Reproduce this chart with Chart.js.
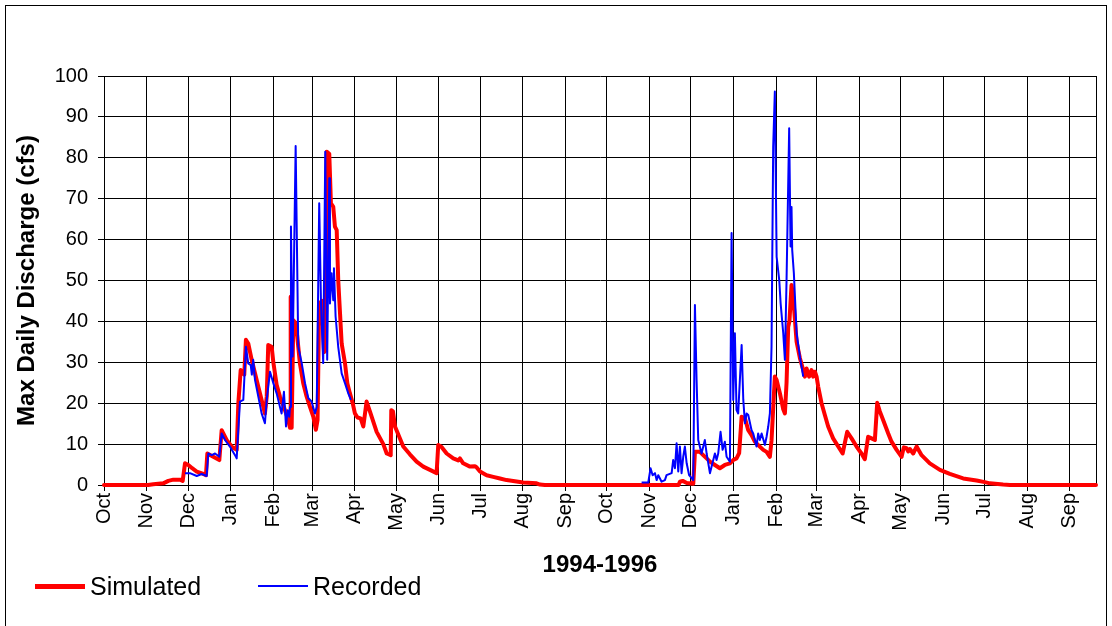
<!DOCTYPE html>
<html>
<head>
<meta charset="utf-8">
<script src="https://cdn.jsdelivr.net/npm/chart.js@4.4.1/dist/chart.umd.min.js"></script>
<style>
  html, body { margin: 0; padding: 0; background: #fff; overflow: hidden; }
  #wrap { position: relative; width: 1112px; height: 626px; }
  #wrap canvas { position: absolute; left: 0; top: 0; }
  #frame { position: absolute; left: 5px; top: 5px; width: 1102px; height: 660px;
           border: 1px solid #000; box-sizing: border-box; pointer-events: none; }
  .key { position: absolute; font-family: "Liberation Sans", Arial, sans-serif;
         font-size: 25px; line-height: 30px; color: #000; white-space: nowrap; }
  .swatch { position: absolute; }
</style>
</head>
<body>
<div id="wrap">
  <canvas id="chart" width="1112" height="626"></canvas>
  <div id="frame"></div>
  <div class="swatch" style="left:35px;top:584px;width:50px;height:5px;background:#ff0000"></div>
  <div class="key" style="left:90px;top:571px">Simulated</div>
  <div class="swatch" style="left:258px;top:585px;width:50px;height:2px;background:#0000ff"></div>
  <div class="key" style="left:313px;top:571px">Recorded</div>
</div>
<script>
// Days counted from 1 Oct 1994; month starts for the two water years.
const monthStartDays = [0, 31, 61, 92, 123, 151, 182, 212, 243, 273, 304, 335,
                        365, 396, 426, 457, 488, 517, 548, 578, 609, 639, 670, 701];
const monthLabels = ['Oct', 'Nov', 'Dec', 'Jan', 'Feb', 'Mar', 'Apr', 'May', 'Jun', 'Jul', 'Aug', 'Sep',
                     'Oct', 'Nov', 'Dec', 'Jan', 'Feb', 'Mar', 'Apr', 'May', 'Jun', 'Jul', 'Aug', 'Sep'];
const lastDay = 720;
const yTicks = [0, 10, 20, 30, 40, 50, 60, 70, 80, 90, 100];

// Simulated maximum daily discharge (cfs)
const simDays = [
  0, 32, 35.8, 43, 46.7, 50.3, 55.2, 57.1, 58.8, 61.2, 64, 67.3, 72.1, 74, 75, 79.3, 83.7, 85.4, 89, 92.7,
  96.3, 97.5, 99.2, 100.8, 101.8, 103, 104.7, 107.2, 109.6, 112, 114.4, 116.8, 118.1, 119.2, 121.7, 122.9,
  125.3, 127.7, 130.1, 132.6, 133.7, 135, 135.5, 136.2, 137.4, 139.3, 141, 142.2, 144.6, 147.1, 149.5,
  151.9, 153.8, 155, 156.2, 158.2, 159.7, 161, 161.6, 163.5, 164.7, 166.4, 167.6, 168.9, 170, 171.3,
  172.5, 174.9, 176.6, 178.5, 180.5, 182.1, 184, 186.3, 188.2, 190.6, 193, 197.9, 202.7, 205.2, 208.1,
  208.5, 209.7, 211.2, 217.2, 222, 226.9, 231.7, 236.6, 241.4, 242.6, 245, 248.7, 253.5, 257.1, 258.3,
  260.7, 265.6, 269.2, 270.5, 272.9, 277.7, 282.5, 287.4, 292.2, 297, 304.3, 314, 316.4, 320,
  417, 418, 420, 423, 427.7, 428.9, 432.5, 434.9, 437.4, 439.8, 443.4, 447, 450.6, 454.3, 456.7, 459.1,
  461, 462.8, 465.2, 467.6, 470, 472.4, 476, 478.5, 480.9, 483.3, 484.5, 486.9, 488.2, 490.6, 493, 494.2,
  495.4, 496.6, 497.5, 499, 500.2, 501.5, 502.7, 505.1, 507.5, 508.7, 509.9, 511.8, 513.5, 514.7, 516,
  517.2, 518.4, 520.8, 523.2, 525.6, 529.2, 532.9, 536.1, 539.4, 542.6, 546.2, 549.8, 552.2, 554.6,
  557.1, 559.5, 561.2, 563.1, 565.5, 569.2, 571.6, 575.3, 578.9, 580.5, 582.5, 583.7, 584.9, 587.3,
  589.8, 593.4, 599.4, 606.7, 613.9, 623.6, 633.3, 639.3, 643, 652.6, 657.5, 720
];
const simCfs = [
  0, 0, 0.2, 0.4, 1.0, 1.3, 1.3, 1.0, 5.3, 4.9, 4.1, 3.3, 2.7, 2.4, 7.7, 6.9, 6.1, 13.4, 11, 9.4,
  8.6, 20, 28.1, 27.5, 27, 35.5, 34.6, 30.6, 27.3, 24, 20.8, 17.5, 21.6, 34.2, 33.8, 30,
  24.5, 21.6, 19.5, 17.1, 15.9, 14, 46, 14, 40.3, 39.5, 33.8, 29.7, 24.9, 21.6, 19.1,
  16.7, 13.5, 15.9, 44.4, 45, 32.5, 33, 81.5, 81, 68.9, 68, 63.2, 62.3, 50.1, 42,
  34.6, 29.8, 24.9, 22.4, 20, 17.5, 16.5, 16.3, 14.3, 20.4, 18, 13, 10, 7.7, 7.3,
  18.3, 18, 14.3, 9.4, 7.5, 5.7, 4.5, 3.7, 2.9, 9.8, 9.3, 7.7, 6.5, 6.0, 6.5,
  5.3, 4.5, 4.6, 4.3, 3.3, 2.4, 2.0, 1.6, 1.2, 1.0, 0.6, 0.4, 0.1, 0,
  0, 0.8, 1.0, 0.5, 0.3, 8.1, 8.1, 7.3, 6.5, 5.7, 4.9, 4.1, 4.9, 5.3, 6.1, 6.5,
  7.8, 16.7, 16.3, 13.4, 12.2, 10.6, 9.4, 8.6, 8.1, 6.9, 10.9, 26.5, 25.7, 22.4, 18.5, 17.5,
  25, 38.7, 40, 48.9, 46, 40.3, 35, 31, 28.1, 26.5, 28.5, 26.5, 28.1, 26.5, 27.7,
  26.5, 24, 20, 17.1, 14.3, 11.4, 9.4, 7.7, 13, 11.4, 9.4, 7.7, 6.3, 11.8,
  11.4, 11, 20.1, 18, 15.9, 12.6, 10.6, 8.6, 6.9, 9.2, 9, 8.2, 8.8, 7.7,
  9.4, 7.3, 5.3, 3.7, 2.7, 1.6, 1.1, 0.7, 0.4, 0.1, 0, 0
];

// Recorded maximum daily discharge (cfs); null marks the break between records
const recDays = [
  58.8, 62.4, 67.3, 70.9, 74.5, 75.7, 78.2, 80.6, 83.7, 85.4, 87.8, 91.4, 95.1, 96.3, 98.7, 101.1, 103,
  104.7, 106.5, 107.3, 108.3, 109.6, 112, 114.4, 116.8, 118.1, 120.5, 122.9, 125.3, 127.7, 128.9, 130.6,
  132.1, 133.3, 134.5, 135, 135.7, 136.9, 139.1, 141, 143.5, 145.9, 148.3, 150.7, 153.1, 154.4, 156.2,
  157.5, 159.1, 160.6, 162, 163.5, 164, 165.2, 166.4, 166.9, 168.1, 170, 172.5, 174.9, 177.3, 179.2,
  280,
  390.2, 395, 396.7, 398.2, 399.9, 401.1, 402.3, 404.7, 407.1, 408.3, 412, 413.1, 414.4, 415.6, 416.8,
  418, 419.2, 420.4, 421.6, 422.9, 424.7, 427.7, 428.9, 430.1, 431.3, 433.7, 436.1, 437.4, 439.8, 441,
  443.4, 444.6, 445.8, 447.5, 449, 450.6, 451.9, 454.3, 455.5, 456.7, 457.9, 459.1, 460.3, 462.8, 464,
  465.2, 466.4, 467.6, 470, 471.2, 473.6, 474.8, 476, 477.3, 479.7, 480.9, 482.1, 483.3, 484.5, 485.7,
  486.9, 488.2, 490.1, 491.1, 493, 494.2, 495.4, 497.3, 498.3, 499, 499.5, 500.7, 502.7, 505.1, 507.5
];
const recCfs = [
  2.9, 2.9, 2.2, 2.7, 2.2, 7.7, 7.3, 7.7, 6.9, 12.6, 11, 9.4, 7.3, 6.5, 20.4, 20.8, 33.8,
  29.7, 29.3, 27, 30.6, 25.7, 21.6, 17.5, 15.1, 20.8, 27.7, 24.9, 22.4, 19.1, 17.5, 22.8,
  14.3, 18.3, 16.7, 19.1, 63.2, 31.4, 82.9, 33.8, 29.8, 24.9, 21.2, 20.4, 17.5, 19.1, 68.9,
  44.4, 29.8, 81.5, 30.6, 75, 44.4, 51.8, 45.2, 53, 41.2, 33.8, 27.3, 24.9, 22.4, 20.8,
  null,
  0.6, 0.6, 4.1, 2.4, 2.9, 1.2, 2.4, 0.8, 1.2, 2.4, 2.9, 6.1, 4.1, 10.2, 3.3,
  9.4, 2.9, 6.9, 9.4, 5.3, 2.4, 1.2, 44, 25.7, 11, 7.7, 11, 7.7, 2.9, 4.5,
  7.7, 6.1, 7.7, 13, 8.6, 10.6, 6.9, 5.7, 61.6, 20.8, 37.1, 18.3, 17.5, 34.2, 20.8,
  15.1, 17.5, 17.1, 13.4, 12.6, 9.4, 12.6, 11, 12.6, 9.8, 11.8, 14.3, 17.5, 33.8, 82.7,
  96.2, 55.8, 50.1, 44.4, 37.1, 30.6, 50.1, 87.2, 58.3, 68, 57.5, 51.8, 37.1, 31.4, 26.5
];

const toPoints = (xs, ys) => xs.map((x, i) => ({ x: x, y: ys[i] }));

Chart.defaults.font.family = '"Liberation Sans", Arial, sans-serif';
Chart.defaults.color = '#000';

new Chart(document.getElementById('chart'), {
  type: 'line',
  data: {
    datasets: [
      {
        label: 'Recorded',
        data: toPoints(recDays, recCfs),
        borderColor: '#0000ff',
        borderWidth: 2,
        pointRadius: 0,
        tension: 0,
        spanGaps: false,
        borderJoinStyle: 'round',
        clip: 4
      },
      {
        label: 'Simulated',
        data: toPoints(simDays, simCfs),
        borderColor: '#ff0000',
        borderWidth: 4,
        pointRadius: 0,
        tension: 0,
        borderJoinStyle: 'round',
        borderCapStyle: 'round',
        clip: 4
      }
    ]
  },
  options: {
    responsive: false,
    animation: false,
    events: [],
    layout: { padding: { left: 0, top: 76, right: 16, bottom: 0 } },
    plugins: { legend: { display: false }, tooltip: { enabled: false } },
    scales: {
      x: {
        type: 'linear',
        min: 0,
        max: lastDay,
        afterBuildTicks: (scale) => {
          scale.ticks = monthStartDays.concat([lastDay]).map(v => ({ value: v }));
        },
        afterFit: (scale) => {
          scale.height = 141;
          scale.paddingLeft = 0;
          scale.paddingRight = 0;
        },
        ticks: {
          autoSkip: false,
          minRotation: 90,
          maxRotation: 90,
          padding: 2,
          color: '#000',
          font: { size: 20 },
          callback: (value, index) => monthLabels[index] || ''
        },
        grid: {
          color: '#000',
          lineWidth: 1,
          tickLength: 6,
          tickColor: (ctx) => (ctx.index === monthStartDays.length ? 'rgba(0,0,0,0)' : '#000')
        },
        border: { color: '#000', width: 1 },
        title: {
          display: true,
          text: '1994-1996',
          color: '#000',
          font: { size: 24, weight: 'bold' },
          padding: { top: 0, bottom: 46 }
        }
      },
      y: {
        min: 0,
        max: 100,
        afterBuildTicks: (scale) => { scale.ticks = yTicks.map(v => ({ value: v })); },
        afterFit: (scale) => {
          scale.width = 104;
          scale.paddingTop = 0;
          scale.paddingBottom = 0;
        },
        ticks: { padding: 10, color: '#000', font: { size: 20 } },
        grid: { color: '#000', lineWidth: 1, tickLength: 6 },
        border: { color: '#000', width: 1 },
        title: {
          display: true,
          text: 'Max Daily Discharge (cfs)',
          color: '#000',
          font: { size: 24, weight: 'bold' },
          padding: { top: 13, bottom: 0 }
        }
      }
    }
  }
});
</script>
</body>
</html>
